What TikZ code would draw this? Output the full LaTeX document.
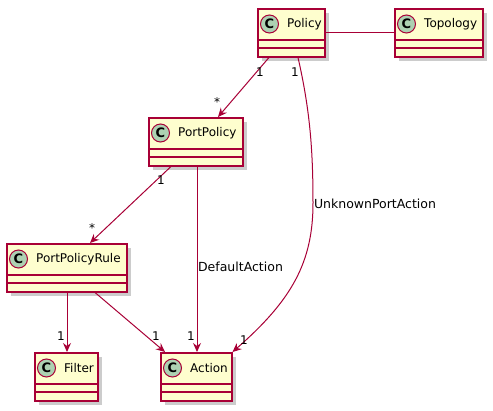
\documentclass[tikz,border=0pt]{standalone}
\usepackage{fontspec}
\setmainfont{DejaVu Sans}
\usetikzlibrary{arrows.meta,shadows}
\definecolor{umlred}{HTML}{A80036}
\definecolor{umlfill}{HTML}{FEFECE}
\definecolor{umlcirc}{HTML}{ADD1B2}
\tikzset{
  cls/.style={draw=umlred, fill=umlfill, line width=1.5pt, inner sep=0pt, anchor=north west,
    minimum height=48pt,
    drop shadow={shadow xshift=4pt, shadow yshift=-4pt, fill=black!40, opacity=0.5}},
  sepline/.style={draw=umlred, line width=1.5pt},
  circ/.style={circle, draw=umlred, fill=umlcirc, line width=1pt, minimum size=18pt, inner sep=0pt,
    font=\fontsize{13}{13}\selectfont\bfseries},
  cname/.style={anchor=west, inner sep=0pt, font=\fontsize{12}{14}\selectfont},
  conn/.style={draw=umlred, line width=1pt},
  arr/.style={conn, -{Stealth[length=9pt,width=8pt,inset=3pt]}},
  lbl/.style={font=\fontsize{12.5}{14}\selectfont, inner sep=0pt},
  mult/.style={font=\fontsize{12}{14}\selectfont, inner sep=0pt},
}
% name, left, top, width, text
\newcommand\umlclass[5]{%
  \node[cls, minimum width=#4pt] (#1) at (#2,#3) {};
  \draw[sepline] (#2,#3+32) -- ++(#4,0);
  \draw[sepline] (#2,#3+40) -- ++(#4,0);
  \node[circ] (#1c) at (#2+12.5,#3+16) {C};
  \node[cname] (#1t) at (#2+30,#3+16) {#5};
}
\begin{document}
\begin{tikzpicture}[x=1pt,y=-1pt]
\useasboundingbox (0,0) rectangle (493,410);
\umlclass{policy}{257}{8}{67}{Policy}
\umlclass{topology}{394}{8}{88}{Topology}
\umlclass{portpolicy}{148}{117}{94}{PortPolicy}
\umlclass{pprule}{6}{243}{120}{PortPolicyRule}
\umlclass{filter}{34}{352}{63}{Filter}
\umlclass{action}{160}{352}{71}{Action}

% connectors
\draw[conn] (policy.east) -- (topology.west);
\draw[arr] ([xshift=12pt]policy.south west) -- ([xshift=70pt]portpolicy.north west);
\draw[arr] ([xshift=41pt]policy.south west)
   .. controls (310,110) and (313,150) .. (313,203)
   .. controls (313,262) and (292,300) .. (action.north east);
\draw[arr] ([xshift=23pt]portpolicy.south west) -- ([xshift=84pt]pprule.north west);
\draw[arr] ([xshift=49pt]portpolicy.south west) -- ([xshift=37pt]action.north west);
\draw[arr] ([xshift=61pt]pprule.south west) -- ([xshift=33pt]filter.north west);
\draw[arr] ([xshift=89pt]pprule.south west) -- ([xshift=5pt]action.north west);

% labels
\node[mult] (m1) at (260,72) {1};
\node[mult] (m2) at (217,102) {*};
\node[mult] (m3) at (295,72) {1};
\node[mult] (m4) at (161,180) {1};
\node[mult] (m5) at (92,228) {*};
\node[mult] (m6) at (61,336) {1};
\node[mult] (m7) at (156,336) {1};
\node[mult] (m8) at (191,336) {1};
\node[mult] (m9) at (244,340) {1};
\node[lbl] (l1) at (240.5,267) {DefaultAction};
\node[lbl] (l2) at (375,204) {UnknownPortAction};
\end{tikzpicture}
\end{document}
